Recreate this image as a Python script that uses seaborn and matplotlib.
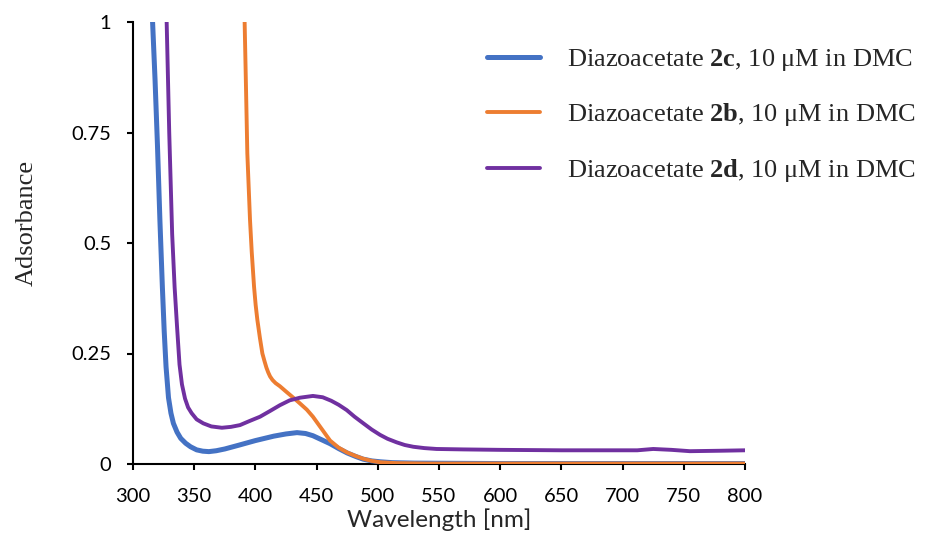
import matplotlib
matplotlib.use("Agg")
import matplotlib.pyplot as plt
import seaborn as sns
import pandas as pd

# ---- data ----
wl_2c = [314, 316, 318, 320, 322, 324, 325.5, 327, 329, 331, 333, 336, 339, 343, 347, 352, 357, 362,
         368, 375, 387, 400, 415, 425, 434, 441, 447, 454, 461, 468, 475, 482, 488, 495, 502, 512,
         530, 600, 800]
abs_2c = [1.15, 1.0, 0.87, 0.72, 0.55, 0.40, 0.30, 0.22, 0.15, 0.115, 0.092, 0.072, 0.058, 0.047, 0.039, 0.032, 0.029, 0.028,
          0.030, 0.034, 0.043, 0.053, 0.063, 0.068, 0.071, 0.069, 0.064, 0.055, 0.046, 0.035, 0.025, 0.017, 0.011, 0.007, 0.005, 0.003,
          0.002, 0.001, 0.001]

wl_2b = [390, 391.2, 392.3, 393.4, 395.6, 397, 398.9, 400.2, 401.6, 403.7, 405.7, 407.5, 409, 410.5, 412, 414, 416.5,
         420, 425, 431, 436, 442, 447, 454, 461, 468, 475, 482, 488, 495, 502, 515, 540, 800]
abs_2b = [1.1, 1.0, 0.854, 0.703, 0.552, 0.48, 0.401, 0.36, 0.326, 0.285, 0.25, 0.232, 0.218, 0.207, 0.198, 0.19, 0.183,
          0.176, 0.164, 0.150, 0.138, 0.123, 0.107, 0.080, 0.053, 0.037, 0.026, 0.018, 0.012, 0.007, 0.004, 0.002, 0.001, 0.001]

wl_2d = [326, 327.5, 329.6, 332, 334, 336, 338, 340, 342.5, 345, 347.9, 352, 357.4, 364, 372.6, 380, 387.4,
         395, 403.8, 412, 420, 428, 436.4, 447, 455, 462, 468, 474.6, 481, 488.2, 495, 501.8, 508, 515.4,
         522, 529, 538, 548, 570, 600, 650, 700, 712, 725, 740, 755, 780, 800]
abs_2d = [1.1, 1.0, 0.75, 0.52, 0.40, 0.31, 0.225, 0.18, 0.148, 0.128, 0.115, 0.101, 0.092, 0.085, 0.082, 0.084, 0.088,
          0.097, 0.107, 0.120, 0.133, 0.144, 0.150, 0.154, 0.151, 0.143, 0.134, 0.122, 0.107, 0.092, 0.078, 0.066, 0.057, 0.049,
          0.043, 0.039, 0.036, 0.034, 0.033, 0.032, 0.031, 0.031, 0.031, 0.034, 0.032, 0.029, 0.030, 0.031]

labels = ["Diazoacetate $\\mathbf{2c}$, 10 μM in DMC",
          "Diazoacetate $\\mathbf{2b}$, 10 μM in DMC",
          "Diazoacetate $\\mathbf{2d}$, 10 μM in DMC"]
colors = ["#4472C4", "#ED7D31", "#7030A0"]
widths = [3.6, 2.8, 2.8]

x_ticks = [300, 350, 400, 450, 500, 550, 600, 650, 700, 750, 800]
y_ticks = [0, 0.25, 0.5, 0.75, 1]
y_ticklabels = ["0", "0.25", "0.5", "0.75", "1"]

# ---- style ----
sns.set_style("ticks")
plt.rcParams["font.family"] = ["Lato", "DejaVu Sans"]
plt.rcParams["mathtext.fontset"] = "custom"
plt.rcParams["mathtext.rm"] = "Liberation Serif"
plt.rcParams["mathtext.bf"] = "Liberation Serif:bold"
plt.rcParams["mathtext.it"] = "Liberation Serif:italic"

fig = plt.figure(figsize=(9.28, 5.41), dpi=100)
ax = fig.add_axes([133 / 928, 1 - 464 / 541, (745 - 133) / 928, (464 - 22) / 541])

series = [(wl_2c, abs_2c), (wl_2b, abs_2b), (wl_2d, abs_2d)]
for (wl, ab), lab, c, lw in zip(series, labels, colors, widths):
    df = pd.DataFrame({"wl": wl, "abs": ab})
    sns.lineplot(data=df, x="wl", y="abs", ax=ax, color=c, linewidth=lw, zorder=3,
                 label=lab, estimator=None, sort=True)
for ln in ax.get_lines():
    ln.set_solid_joinstyle("round")
    ln.set_solid_capstyle("round")

ax.set_xlim(300, 800)
ax.set_ylim(0, 1)
ax.set_xticks(x_ticks)
ax.set_yticks(y_ticks)
ax.set_yticklabels(y_ticklabels)

for s in ["top", "right"]:
    ax.spines[s].set_visible(False)
for s in ["left", "bottom"]:
    ax.spines[s].set_linewidth(1.5)
    ax.spines[s].set_color("black")
ax.tick_params(axis="both", direction="out", length=4.5, width=1.5, colors="black",
               labelsize=14.5)
ax.tick_params(axis="x", pad=12.5)
ax.tick_params(axis="y", pad=11)

ax.set_xlabel("Wavelength [nm]", fontsize=17.5, labelpad=3)
ax.set_ylabel("Adsorbance", fontsize=19, family=["Liberation Serif"])
ax.yaxis.set_label_coords(-0.155, 0.545)

h, l = ax.get_legend_handles_labels()
ax.get_legend().remove()
leg = fig.legend(h, l, loc="upper left", bbox_to_anchor=(487 / 928, 1 - 47 / 541),
                 frameon=False, borderpad=0, borderaxespad=0,
                 handlelength=2.0, handletextpad=1.05, labelspacing=1.08,
                 prop={"family": "Liberation Serif", "size": 19})

fig.savefig("out.png", dpi=100)
